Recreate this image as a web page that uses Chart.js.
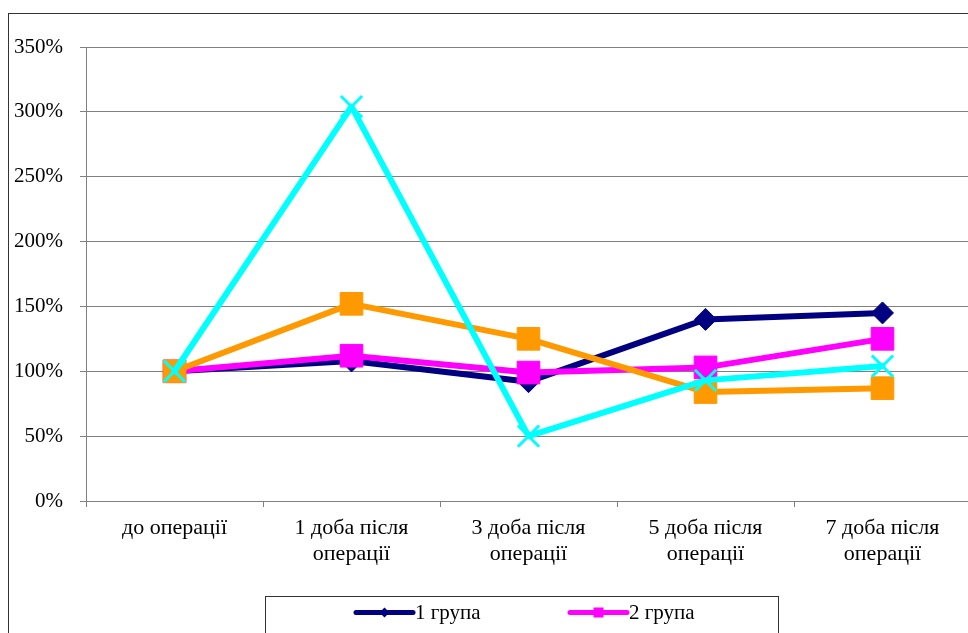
<!DOCTYPE html>
<html>
<head>
<meta charset="utf-8">
<script src="https://cdn.jsdelivr.net/npm/chart.js@4.4.1/dist/chart.umd.min.js"></script>
<style>
  html, body { margin: 0; padding: 0; background: #fff; overflow: hidden; width: 968px; height: 633px; }
  #frame { position: absolute; left: 8px; top: 13px; width: 1000px; height: 700px; border: 1px solid #333; }
  canvas { display: block; }
</style>
</head>
<body>
<div id="frame"><canvas id="c" width="1000" height="700"></canvas></div>
<script>
// Time points
const categories = [
  'до операції',
  ['1 доба після', 'операції'],
  ['3 доба після', 'операції'],
  ['5 доба після', 'операції'],
  ['7 доба після', 'операції']
];
// Values relative to the pre-operative level, %
const group1 = [100, 108, 92, 140, 145];
const group2 = [100, 112, 99, 103, 125];
const group3 = [100, 152, 125, 84, 87];
const group4 = [100, 304, 50, 93, 104];
const seriesNames = ['1 група', '2 група', '3 група', '4 група'];
const yTicks = [0, 50, 100, 150, 200, 250, 300, 350];

const FONT = "'Liberation Serif', 'Times New Roman', serif";

const styles = [
  { color: '#000080', point: 'rectRot', radius: 11, bw: 1 },
  { color: '#FF00FF', point: 'rect', radius: 16, bw: 1 },
  { color: '#FF9900', point: 'rect', radius: 16, bw: 1 },
  { color: '#00FFFF', point: 'crossRot', radius: 15, bw: 3 }
];
const seriesData = [group1, group2, group3, group4];

const datasets = seriesData.map((d, i) => ({
  label: seriesNames[i],
  data: d,
  borderColor: styles[i].color,
  backgroundColor: styles[i].color,
  borderWidth: 6,
  borderCapStyle: 'round',
  borderJoinStyle: 'round',
  tension: 0,
  pointStyle: styles[i].point,
  pointRadius: styles[i].radius,
  pointHoverRadius: styles[i].radius,
  pointBorderWidth: styles[i].bw,
  pointBorderColor: styles[i].color,
  pointBackgroundColor: styles[i].color,
  order: 4 - i
}));

// Small legend marker drawn on top of the legend line
function legendMarker(ctx, style, x, y) {
  ctx.beginPath();
  if (style === 'rectRot') {
    const r = 5;
    ctx.moveTo(x, y - r); ctx.lineTo(x + r, y); ctx.lineTo(x, y + r); ctx.lineTo(x - r, y);
    ctx.closePath(); ctx.fill();
  } else if (style === 'rect') {
    const h = 5;
    ctx.rect(x - h, y - h, 2 * h, 2 * h); ctx.fill();
  } else {
    const h = 5;
    ctx.lineWidth = 2;
    ctx.moveTo(x - h, y - h); ctx.lineTo(x + h, y + h);
    ctx.moveTo(x + h, y - h); ctx.lineTo(x - h, y + h);
    ctx.stroke();
  }
}

// Boxed legend with line + marker symbols, two entries per row
const boxedLegend = {
  id: 'boxedLegend',
  afterDraw(chart) {
    const ctx = chart.ctx;
    const area = chart.chartArea;
    const bx = 256.5, by = area.bottom + 95.5, bw = 513, bh = 120;
    ctx.save();
    ctx.strokeStyle = '#333';
    ctx.lineWidth = 1;
    ctx.strokeRect(bx, by, bw, bh);
    const cols = [347, 561];
    chart.data.datasets.forEach((ds, i) => {
      const x0 = cols[i % 2];
      const y = by + 16 + Math.floor(i / 2) * 30;
      ctx.strokeStyle = ds.borderColor;
      ctx.fillStyle = ds.borderColor;
      ctx.lineWidth = 5;
      ctx.lineCap = 'round';
      ctx.beginPath();
      ctx.moveTo(x0, y);
      ctx.lineTo(x0 + 57, y);
      ctx.stroke();
      legendMarker(ctx, ds.pointStyle, x0 + 28.5, y);
      ctx.fillStyle = '#000';
      ctx.font = '21px ' + FONT;
      ctx.textBaseline = 'middle';
      ctx.textAlign = 'left';
      ctx.fillText(ds.label, x0 + 59, y + 1);
    });
    ctx.restore();
  }
};

new Chart(document.getElementById('c'), {
  type: 'line',
  data: { labels: categories, datasets },
  options: {
    responsive: false,
    animation: false,
    devicePixelRatio: 1,
    layout: { padding: { left: 0, top: 33, right: 38, bottom: 123 } },
    plugins: { legend: { display: false }, tooltip: { enabled: false } },
    scales: {
      x: {
        offset: true,
        grid: { offset: true, drawOnChartArea: false, drawTicks: true, tickLength: 6, color: '#808080' },
        border: { color: '#808080', width: 1 },
        ticks: { color: '#000', font: { family: FONT, size: 22, lineHeight: 1.18 }, padding: 8, maxRotation: 0, autoSkip: false },
        afterFit(s) { s.height = 90; }
      },
      y: {
        min: 0, max: 350,
        afterBuildTicks(s) { s.ticks = yTicks.map(v => ({ value: v })); },
        grid: { color: '#808080', lineWidth: 1, tickLength: 6 },
        border: { color: '#808080', width: 1 },
        ticks: { color: '#000', font: { family: FONT, size: 21 }, padding: 17, callback: v => v + '%' },
        afterFit(s) { s.width = 77; }
      }
    }
  },
  plugins: [boxedLegend]
});
</script>
</body>
</html>
